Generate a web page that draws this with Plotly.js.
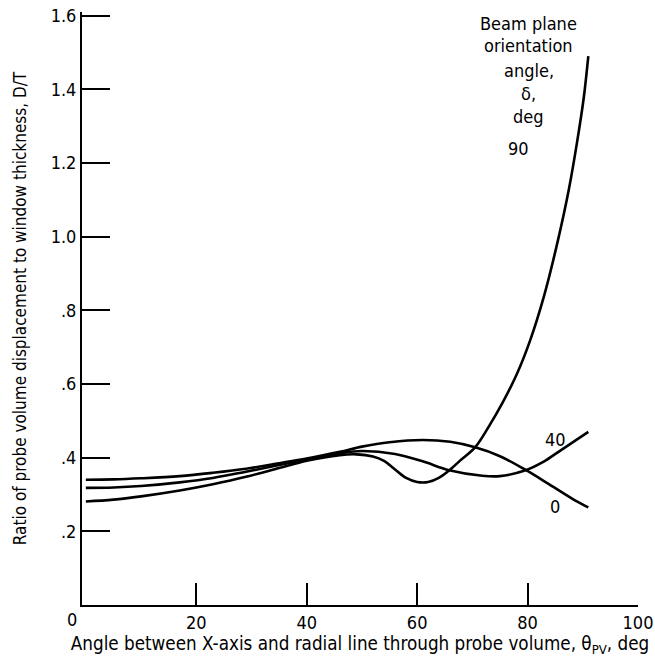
<!DOCTYPE html>
<html>
<head>
<meta charset="utf-8">
<script src="https://cdn.plot.ly/plotly-3.0.1.min.js"></script>
<style>html,body{margin:0;padding:0;background:#fff;}#chart{width:655px;height:662px;}</style>
</head>
<body>
<div id="chart"></div>
<script>
// Beam plane orientation angle delta = 0 deg
const x0 = [0, 5, 10, 17, 23, 29, 35, 40, 46, 50, 55, 61, 66, 70.5, 75, 79.5, 84, 88.5, 91];
const y0 = [0.340, 0.341, 0.344, 0.350, 0.359, 0.370, 0.385, 0.398, 0.416, 0.430, 0.442, 0.448, 0.443, 0.428, 0.404, 0.368, 0.327, 0.285, 0.265];
// delta = 40 deg
const x40 = [0, 5, 10, 17, 23, 29, 35, 40, 46, 50, 56, 61, 65.8, 71.8, 75, 79.5, 83, 86, 91];
const y40 = [0.318, 0.319, 0.323, 0.333, 0.345, 0.362, 0.380, 0.395, 0.412, 0.418, 0.410, 0.390, 0.366, 0.351, 0.350, 0.365, 0.390, 0.420, 0.470];
// delta = 90 deg
const x90 = [0, 5, 10, 17, 23, 29, 35, 40, 46, 49, 52, 54, 56, 58, 60, 62, 64, 66, 68, 70.5, 73, 75.5, 78, 80.5, 83, 85.5, 87.5, 89, 90.2, 91];
const y90 = [0.281, 0.286, 0.295, 0.311, 0.328, 0.348, 0.372, 0.392, 0.407, 0.409, 0.403, 0.391, 0.368, 0.345, 0.334, 0.334, 0.346, 0.368, 0.395, 0.428, 0.485, 0.550, 0.625, 0.720, 0.840, 0.990, 1.130, 1.260, 1.380, 1.490];

const yTickVals = [0.2, 0.4, 0.6, 0.8, 1.0, 1.2, 1.4, 1.6];
const yTickText = ['.2', '.4', '.6', '.8', '1.0', '1.2', '1.4', '1.6'];
const xTickVals = [20, 40, 60, 80, 100];
const xTickText = ['20', '40', '60', '80', '100'];
const originLabel = '0';

const curveLabels = ['0', '40', '90'];
const curveLabelX = [85, 85, 78.4];
const curveLabelY = [0.267, 0.45, 1.24];

const keyLines = ['Beam plane', 'orientation', 'angle,', 'δ,', 'deg'];
const keyX = 80.2;
const keyY = [1.580, 1.518, 1.452, 1.390, 1.327];

const FONT = '"DejaVu Sans Condensed", "Liberation Sans Narrow", sans-serif';
const lineStyle = {color: '#000', width: 2.6, shape: 'spline', smoothing: 1};

const traces = [
  {x: x0, y: y0, mode: 'lines', line: lineStyle, name: '0', hoverinfo: 'skip'},
  {x: x40, y: y40, mode: 'lines', line: lineStyle, name: '40', hoverinfo: 'skip'},
  {x: x90, y: y90, mode: 'lines', line: lineStyle, name: '90', hoverinfo: 'skip'}
];

const annotations = [];
curveLabels.forEach((t, i) => annotations.push({
  x: curveLabelX[i], y: curveLabelY[i], xref: 'x', yref: 'y', text: t, showarrow: false,
  font: {family: FONT, size: 18, color: '#000'}
}));
keyLines.forEach((t, i) => annotations.push({
  x: keyX, y: keyY[i], xref: 'x', yref: 'y', text: t, showarrow: false,
  font: {family: FONT, size: 18, color: '#000'}
}));
// origin "0" label sits just left of the axis corner
annotations.push({
  x: 0, y: 0, xref: 'x', yref: 'paper', yanchor: 'top', xshift: -14, yshift: -2,
  text: originLabel, showarrow: false, font: {family: FONT, size: 18, color: '#000'}
});

const layout = {
  width: 655, height: 662,
  margin: {l: 82, r: 17, t: 12, b: 57},
  paper_bgcolor: '#fff', plot_bgcolor: '#fff',
  showlegend: false,
  font: {family: FONT, color: '#000', size: 16},
  xaxis: {
    range: [-0.7, 100], showgrid: false, zeroline: false,
    showline: true, linecolor: '#000', linewidth: 2,
    tickvals: xTickVals, ticktext: xTickText,
    ticks: 'inside', ticklen: 22, tickwidth: 2, tickcolor: '#000',
    tickfont: {family: FONT, size: 18, color: '#000'},
    title: {text: 'Angle between X-axis and radial line through probe volume, θ<sub>PV</sub>, deg',
            font: {family: FONT, size: 18.7, color: '#000'}, standoff: 2}
  },
  yaxis: {
    range: [0, 1.61], showgrid: false, zeroline: false,
    showline: true, linecolor: '#000', linewidth: 2,
    tickvals: yTickVals, ticktext: yTickText,
    ticks: 'inside', ticklen: 28, tickwidth: 2, tickcolor: '#000',
    tickfont: {family: FONT, size: 18, color: '#000'},
    title: {text: 'Ratio of probe volume displacement to window thickness, D/T',
            font: {family: FONT, size: 17, color: '#000'}, standoff: 20}
  },
  annotations: annotations
};

Plotly.newPlot('chart', traces, layout, {displayModeBar: false, staticPlot: true});
</script>
</body>
</html>
